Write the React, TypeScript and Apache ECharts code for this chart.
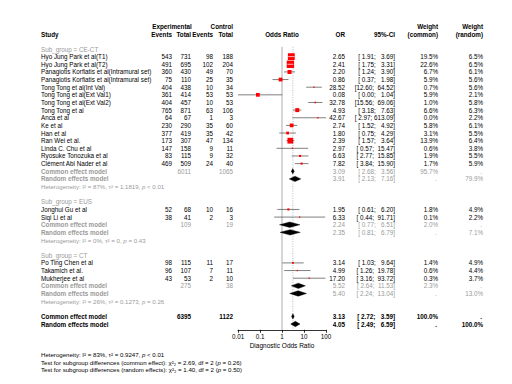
import React, { useEffect, useRef } from "react";
import * as echarts from "echarts";

// ---------------- data ----------------
const subgroupLabels = ["Sub_group = CE-CT", "Sub_group = EUS", "Sub_group = CT"];
const studyNames = [
  "Hyo Jung Park et al(T1)",
  "Hyo Jung Park et al(T2)",
  "Panagiotis Korfiatis et al(Intramural set)",
  "Panagiotis Korfiatis et al(Intramural set)",
  "Tong Tong et al(Int Val)",
  "Tong Tong et al(Ext Val1)",
  "Tong Tong et al(Ext Val2)",
  "Tong Tong et al",
  "Anca et al",
  "Ke et al",
  "Han et al",
  "Ran Wei et al.",
  "Linda C. Chu et al",
  "Ryosuke Tonozuka et al",
  "Clément Abi Nader et al",
  "Jonghui Gu et al",
  "Siqi Li et al",
  "Po Ting Chen et al",
  "Takamich et al.",
  "Mukherjee et al",
];
const studyGroup = [0, 0, 0, 0, 0, 0, 0, 0, 0, 0, 0, 0, 0, 0, 0, 1, 1, 2, 2, 2];
const expEvents = [543, 491, 360, 75, 404, 361, 404, 765, 64, 230, 377, 173, 147, 83, 469, 52, 38, 98, 96, 43];
const expTotal = [731, 695, 430, 110, 438, 414, 457, 871, 67, 290, 419, 307, 158, 115, 509, 68, 41, 115, 107, 53];
const ctrlEvents = [98, 102, 49, 25, 10, 53, 10, 63, 1, 35, 35, 47, 9, 9, 24, 10, 2, 11, 7, 2];
const ctrlTotal = [188, 204, 70, 35, 34, 53, 53, 106, 3, 60, 42, 134, 11, 32, 40, 16, 3, 17, 11, 10];
const oddsRatio = [2.65, 2.41, 2.2, 0.86, 28.52, 0.08, 32.78, 4.93, 42.67, 2.74, 1.8, 2.39, 2.97, 6.63, 7.82, 1.95, 6.33, 3.14, 4.99, 17.2];
const ciLower = [1.91, 1.75, 1.24, 0.37, 12.6, 0.003, 15.56, 3.18, 2.97, 1.52, 0.75, 1.57, 0.57, 2.77, 3.84, 0.61, 0.44, 1.03, 1.26, 3.16];
const ciUpper = [3.69, 3.31, 3.9, 1.98, 64.52, 1.04, 69.06, 7.63, 613.09, 4.92, 4.29, 3.64, 15.47, 15.85, 15.9, 6.2, 91.71, 9.64, 19.78, 93.72];
const weightCommon = [19.5, 22.6, 6.7, 5.9, 0.7, 5.9, 1.0, 6.6, 0.0, 5.8, 3.1, 13.9, 0.6, 1.9, 1.7, 1.8, 0.1, 1.4, 0.6, 0.3];
const weightRandom = [6.5, 6.5, 6.1, 5.6, 5.6, 2.1, 5.8, 6.3, 2.2, 6.1, 5.5, 6.4, 3.8, 5.5, 5.9, 4.9, 2.2, 4.9, 4.4, 3.7];

const groupExpTotal = [6011, 109, 275];
const groupCtrlTotal = [1065, 19, 38];
const groupCommonOR = [3.09, 2.24, 5.52];
const groupCommonLower = [2.68, 0.77, 2.64];
const groupCommonUpper = [3.56, 6.51, 11.53];
const groupCommonWeight = [95.7, 2.0, 2.3];
const groupRandomOR = [3.91, 2.35, 5.4];
const groupRandomLower = [2.13, 0.81, 2.24];
const groupRandomUpper = [7.16, 6.79, 13.04];
const groupRandomWeight = [79.9, 7.1, 13.0];
const groupI2 = ["87%", "0%", "26%"];
const groupTau2 = ["1.1819", "0", "0.1273"];
const groupP = ["< 0.01", "= 0.43", "= 0.26"];

const overallExpTotal = 6395;
const overallCtrlTotal = 1122;
const overallCommon = [3.13, 2.72, 3.59];
const overallRandom = [4.05, 2.49, 6.59];
const overallI2 = "83%";
const overallTau2 = "0.9247";
const overallP = "< 0.01";
const testCommon = ["2.69", "2", "0.26"];
const testRandom = ["1.40", "2", "0.50"];

const tickLabels = ["0.01", "0.1", "1", "10", "100"];
const X_MIN = 0.01;
const X_MAX = 100;

// ---------------- layout ----------------
const FONT = '"Liberation Sans", Arial, Helvetica, sans-serif';
const ROW0_Y = 49;
const ROW_H = 7.64;
const Y_MIN = -1;
const AXIS_ROW = 36.75;
const GRID_TOP = ROW0_Y + Y_MIN * ROW_H;
const GRID_H = (AXIS_ROW - Y_MIN) * ROW_H;
const COL = {
  study: 41,
  expEv: 172,
  expTot: 191,
  ctrlEv: 213,
  ctrlTot: 233,
  or: 345,
  ci: 395,
  wc: 438,
  wr: 483,
};
const GRAY = "#9a9a9a";
const FS = 6.3;
const FS_SMALL = 6.1;

type Txt = {
  x?: number;
  dx?: number;
  row: number;
  text: string;
  align: "left" | "right" | "center";
  bold?: boolean;
  color?: string;
  size?: number;
  rich?: boolean;
};

const nb = (s: string) => s.replace(/ /g, "\u00a0");
const fmtCI = (lo: number, hi: number) =>
  nb("[" + lo.toFixed(2).padStart(5, " ") + "; " + hi.toFixed(2).padStart(6, " ") + "]");
const pct = (w: number) => w.toFixed(1) + "%";

function buildLayout() {
  const texts: Txt[] = [];
  const marks: number[][] = [];
  const diamonds: number[][] = [];
  const H1 = -2.88;
  const H2 = -1.9;
  texts.push({ x: 172, row: H1, text: "Experimental", align: "center", bold: true });
  texts.push({ x: COL.ctrlTot, row: H1, text: "Control", align: "right", bold: true });
  texts.push({ x: COL.wc, row: H1, text: "Weight", align: "right", bold: true });
  texts.push({ x: COL.wr, row: H1, text: "Weight", align: "right", bold: true });
  texts.push({ x: COL.study, row: H2, text: "Study", align: "left", bold: true });
  texts.push({ x: COL.expEv, row: H2, text: "Events", align: "right", bold: true });
  texts.push({ x: COL.expTot, row: H2, text: "Total", align: "right", bold: true });
  texts.push({ x: COL.ctrlEv, row: H2, text: "Events", align: "right", bold: true });
  texts.push({ x: COL.ctrlTot, row: H2, text: "Total", align: "right", bold: true });
  texts.push({ dx: 1, row: H2, text: "Odds Ratio", align: "center", bold: true });
  texts.push({ x: COL.or, row: H2, text: "OR", align: "right", bold: true });
  texts.push({ x: COL.ci, row: H2, text: "95%-CI", align: "right", bold: true });
  texts.push({ x: COL.wc, row: H2, text: "(common)", align: "right", bold: true });
  texts.push({ x: COL.wr, row: H2, text: "(random)", align: "right", bold: true });

  let row = 0;
  for (let g = 0; g < subgroupLabels.length; g++) {
    texts.push({ x: COL.study, row, text: subgroupLabels[g], align: "left", color: GRAY });
    row++;
    for (let i = 0; i < studyNames.length; i++) {
      if (studyGroup[i] !== g) continue;
      texts.push({ x: COL.study, row, text: studyNames[i], align: "left" });
      texts.push({ x: COL.expEv, row, text: String(expEvents[i]), align: "right" });
      texts.push({ x: COL.expTot, row, text: String(expTotal[i]), align: "right" });
      texts.push({ x: COL.ctrlEv, row, text: String(ctrlEvents[i]), align: "right" });
      texts.push({ x: COL.ctrlTot, row, text: String(ctrlTotal[i]), align: "right" });
      texts.push({ x: COL.or, row, text: oddsRatio[i].toFixed(2), align: "right" });
      texts.push({ x: COL.ci, row, text: fmtCI(ciLower[i], ciUpper[i]), align: "right" });
      texts.push({ x: COL.wc, row, text: pct(weightCommon[i]), align: "right" });
      texts.push({ x: COL.wr, row, text: pct(weightRandom[i]), align: "right" });
      marks.push([oddsRatio[i], row, ciLower[i], ciUpper[i], weightCommon[i]]);
      row++;
    }
    texts.push({ x: COL.study, row, text: "Common effect model", align: "left", bold: true, color: GRAY });
    texts.push({ x: COL.expTot, row, text: String(groupExpTotal[g]), align: "right", color: GRAY });
    texts.push({ x: COL.ctrlTot, row, text: String(groupCtrlTotal[g]), align: "right", color: GRAY });
    texts.push({ x: COL.or, row, text: groupCommonOR[g].toFixed(2), align: "right", color: GRAY });
    texts.push({ x: COL.ci, row, text: fmtCI(groupCommonLower[g], groupCommonUpper[g]), align: "right", color: GRAY });
    texts.push({ x: COL.wc, row, text: pct(groupCommonWeight[g]), align: "right", color: GRAY });
    texts.push({ x: COL.wr - 1, row, text: ".", align: "right", color: GRAY });
    diamonds.push([groupCommonOR[g], row, groupCommonLower[g], groupCommonUpper[g]]);
    row++;
    texts.push({ x: COL.study, row, text: "Random effects model", align: "left", bold: true, color: GRAY });
    texts.push({ x: COL.or, row, text: groupRandomOR[g].toFixed(2), align: "right", color: GRAY });
    texts.push({ x: COL.ci, row, text: fmtCI(groupRandomLower[g], groupRandomUpper[g]), align: "right", color: GRAY });
    texts.push({ x: COL.wc - 1, row, text: ".", align: "right", color: GRAY });
    texts.push({ x: COL.wr, row, text: pct(groupRandomWeight[g]), align: "right", color: GRAY });
    diamonds.push([groupRandomOR[g], row, groupRandomLower[g], groupRandomUpper[g]]);
    row++;
    texts.push({
      x: COL.study,
      row,
      text: `Heterogeneity: I² = ${groupI2[g]}, τ² = ${groupTau2[g]}, {i|p} ${groupP[g]}`,
      align: "left",
      color: GRAY,
      size: FS_SMALL,
      rich: true,
    });
    row += 2;
  }
  texts.push({ x: COL.study, row, text: "Common effect model", align: "left", bold: true });
  texts.push({ x: COL.expTot, row, text: String(overallExpTotal), align: "right", bold: true });
  texts.push({ x: COL.ctrlTot, row, text: String(overallCtrlTotal), align: "right", bold: true });
  texts.push({ x: COL.or, row, text: overallCommon[0].toFixed(2), align: "right", bold: true });
  texts.push({ x: COL.ci, row, text: fmtCI(overallCommon[1], overallCommon[2]), align: "right", bold: true });
  texts.push({ x: COL.wc, row, text: "100.0%", align: "right", bold: true });
  texts.push({ x: COL.wr - 1, row, text: ".", align: "right", bold: true });
  diamonds.push([overallCommon[0], row, overallCommon[1], overallCommon[2]]);
  row++;
  texts.push({ x: COL.study, row, text: "Random effects model", align: "left", bold: true });
  texts.push({ x: COL.or, row, text: overallRandom[0].toFixed(2), align: "right", bold: true });
  texts.push({ x: COL.ci, row, text: fmtCI(overallRandom[1], overallRandom[2]), align: "right", bold: true });
  texts.push({ x: COL.wc - 1, row, text: ".", align: "right", bold: true });
  texts.push({ x: COL.wr, row, text: "100.0%", align: "right", bold: true });
  diamonds.push([overallRandom[0], row, overallRandom[1], overallRandom[2]]);

  texts.push({ dx: 1, row: 38.75, text: "Diagnostic Odds Ratio", align: "center", size: 6.5 });
  texts.push({
    x: COL.study,
    row: 40,
    text: `Heterogeneity: I² = ${overallI2}, τ² = ${overallTau2}, {i|p} ${overallP}`,
    align: "left",
    size: FS_SMALL,
    rich: true,
  });
  texts.push({
    x: COL.study,
    row: 41,
    text: `Test for subgroup differences (common effect): χ²₂ = ${testCommon[0]}, df = ${testCommon[1]} ({i|p} = ${testCommon[2]})`,
    align: "left",
    size: FS_SMALL,
    rich: true,
  });
  texts.push({
    x: COL.study,
    row: 42,
    text: `Test for subgroup differences (random effects): χ²₂ = ${testRandom[0]}, df = ${testRandom[1]} ({i|p} = ${testRandom[2]})`,
    align: "left",
    size: FS_SMALL,
    rich: true,
  });
  return { texts, marks, diamonds };
}

const clampX = (v: number) => Math.min(X_MAX, Math.max(X_MIN, v));

export default function App() {
  const ref = useRef<HTMLDivElement>(null);
  useEffect(() => {
    const el = ref.current;
    if (!el) return;
    const chart = echarts.init(el, undefined, { renderer: "svg" });
    const { texts, marks, diamonds } = buildLayout();

    const option: any = {
      animation: false,
      backgroundColor: "#ffffff",
      grid: { left: 238, width: 88, top: GRID_TOP, height: GRID_H, containLabel: false },
      xAxis: {
        type: "log",
        logBase: 10,
        min: X_MIN,
        max: X_MAX,
        axisLine: { show: true, onZero: false, lineStyle: { color: "#000", width: 0.8 } },
        axisTick: { show: true, length: 3, lineStyle: { color: "#000", width: 0.8 } },
        minorTick: { show: false },
        splitLine: { show: false },
        axisLabel: {
          fontSize: 6.3,
          fontFamily: FONT,
          color: "#000",
          margin: 4,
          formatter: (v: number) => tickLabels[Math.round(Math.log10(v)) + 2] ?? "",
        },
      },
      yAxis: { type: "value", inverse: true, min: Y_MIN, max: AXIS_ROW, show: false },
      series: [
        {
          type: "custom",
          name: "reference",
          clip: false,
          z: 1,
          encode: { x: 0, y: 1 },
          data: [
            [1, 0],
            [overallCommon[0], 0],
          ],
          renderItem: (params: any, api: any) => {
            const xv = api.value(0);
            const top = api.coord([xv, -0.3]);
            const bot = api.coord([xv, AXIS_ROW]);
            const solid = params.dataIndex === 0;
            return {
              type: "line",
              silent: true,
              shape: { x1: top[0], y1: top[1], x2: bot[0], y2: bot[1] },
              style: solid
                ? { stroke: "#c4c4c4", lineWidth: 1.4 }
                : { stroke: "#a8a8a8", lineWidth: 0.8, lineDash: [1, 1.4] },
            };
          },
        },
        {
          type: "custom",
          name: "studies",
          clip: false,
          z: 3,
          encode: { x: 0, y: 1 },
          data: marks,
          renderItem: (params: any, api: any) => {
            const r = api.value(1);
            const c = api.coord([api.value(0), r]);
            const lo = api.coord([clampX(api.value(2)), r]);
            const hi = api.coord([clampX(api.value(3)), r]);
            const side = Math.max(1.3, 1.55 * Math.sqrt(api.value(4)));
            const inside = hi[0] - lo[0] <= side;
            const children: any[] = [];
            if (!inside) {
              children.push({
                type: "line",
                shape: { x1: lo[0], y1: c[1], x2: hi[0], y2: c[1] },
                style: { stroke: "#4a4a4a", lineWidth: 0.7 },
              });
            }
            children.push({
              type: "rect",
              shape: { x: c[0] - side / 2, y: c[1] - side / 2, width: side, height: side },
              style: { fill: "#ff0000" },
            });
            if (inside) {
              children.push({
                type: "line",
                shape: { x1: lo[0], y1: c[1], x2: hi[0], y2: c[1] },
                style: { stroke: "#ffffff", lineWidth: 0.7 },
              });
            }
            return { type: "group", silent: true, children };
          },
        },
        {
          type: "custom",
          name: "pooled",
          clip: false,
          z: 3,
          encode: { x: 0, y: 1 },
          data: diamonds,
          renderItem: (params: any, api: any) => {
            const r = api.value(1);
            const c = api.coord([api.value(0), r]);
            const lo = api.coord([api.value(2), r]);
            const hi = api.coord([api.value(3), r]);
            const h = 2.7;
            return {
              type: "polygon",
              silent: true,
              shape: {
                points: [
                  [lo[0], c[1]],
                  [c[0], c[1] - h],
                  [hi[0], c[1]],
                  [c[0], c[1] + h],
                ],
              },
              style: { fill: "#000", stroke: "#000", lineWidth: 0.4 },
            };
          },
        },
        {
          type: "custom",
          name: "table",
          clip: false,
          z: 5,
          encode: { x: 0, y: 1 },
          data: texts.map((t) => [1, t.row]),
          renderItem: (params: any, api: any) => {
            const t = texts[params.dataIndex];
            const y = api.coord([1, t.row])[1];
            const x = t.dx !== undefined ? api.coord([t.dx, t.row])[0] : (t.x as number);
            const size = t.size ?? FS;
            const color = t.color ?? "#000";
            const style: any = {
              text: t.text,
              fontFamily: FONT,
              fontSize: size,
              fontWeight: t.bold ? "bold" : "normal",
              fill: color,
              align: t.align,
              verticalAlign: "middle",
            };
            if (t.rich) {
              style.rich = {
                i: {
                  fontFamily: FONT,
                  fontSize: size,
                  fontStyle: "italic",
                  fontWeight: t.bold ? "bold" : "normal",
                  fill: color,
                },
              };
            }
            return { type: "text", x, y, silent: true, style };
          },
        },
      ],
    };
    chart.setOption(option);
    return () => chart.dispose();
  }, []);
  return (
    <div
      ref={ref}
      style={{ position: "absolute", left: 0, top: 0, width: 512, height: 384, background: "#fff" }}
    />
  );
}
